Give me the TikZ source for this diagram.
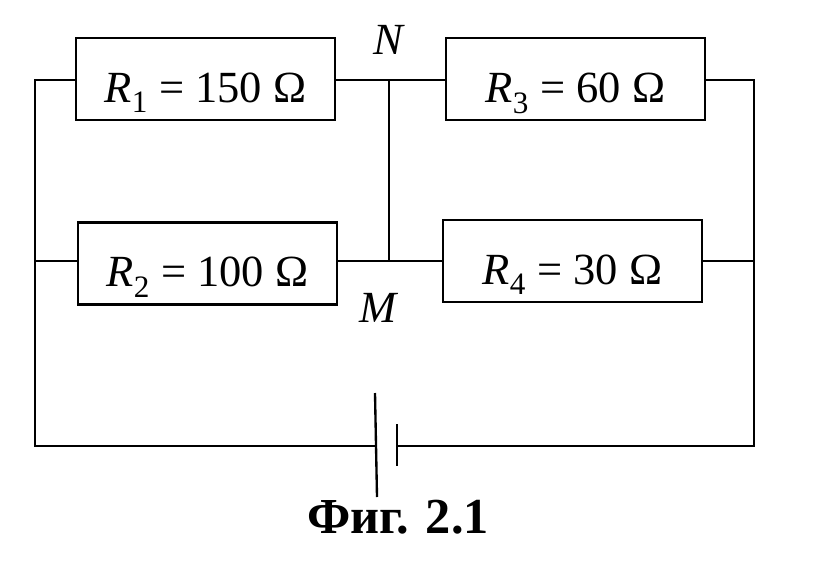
\documentclass[tikz,border=0pt]{standalone}
\usepackage{fontspec}
\setmainfont{Liberation Serif}
\newcommand{\resv}[2]{\textit{R}\textsubscript{#1} = #2 Ω}
\begin{document}
\begin{tikzpicture}[x=0.03cm,y=-0.03cm,line width=2pt,
  res/.style={draw,minimum width=7.77cm,minimum height=2.46cm,inner sep=0pt,
    text height=40pt,text depth=0pt,font=\fontsize{38}{40}\selectfont},
  lbl/.style={font=\fontsize{38}{40}\selectfont\itshape}]
  \useasboundingbox (0,0) rectangle (825,563);
  %% resistors
  \node[res] (r1) at (205.5,79) {\resv{1}{150}};
  \node[res] (r3) at (575.5,79) {\resv{3}{60}};
  \node[res] (r2) at (207.5,263.5) {\resv{2}{100}};
  \node[res] (r4) at (572.5,261) {\resv{4}{30}};
  %% corners and junctions
  \coordinate (tl) at (35,80);
  \coordinate (ml) at (35,261);
  \coordinate (bl) at (35,446);
  \coordinate (tr) at (754,80);
  \coordinate (mr) at (754,261);
  \coordinate (br) at (754,446);
  \coordinate (n) at (389,80);
  \coordinate (m) at (389,261);
  \coordinate (ba) at (376,446);
  \coordinate (bb) at (397,446);
  %% wires
  \draw (r1.west |- tl) -- (tl) -- (bl) -- (ba);
  \draw (ml) -- (r2.west |- ml);
  \draw (r1.east |- n) -- (r3.west |- n);
  \draw (n) -- (m);
  \draw (r2.east |- m) -- (r4.west |- m);
  \draw (r3.east |- tr) -- (tr) -- (br) -- (bb);
  \draw (r4.east |- mr) -- (mr);
  %% battery
  \draw (375,393) -- (377,497);
  \draw (397,424) -- (397,466);
  %% labels
  \node[lbl] (ln) at (388,40) {N};
  \node[lbl] (lm) at (378,308) {M};
  \node[font=\fontsize{43}{46}\selectfont\bfseries] (cap) at (398,517) {Фиг. 2.1};
\end{tikzpicture}
\end{document}
